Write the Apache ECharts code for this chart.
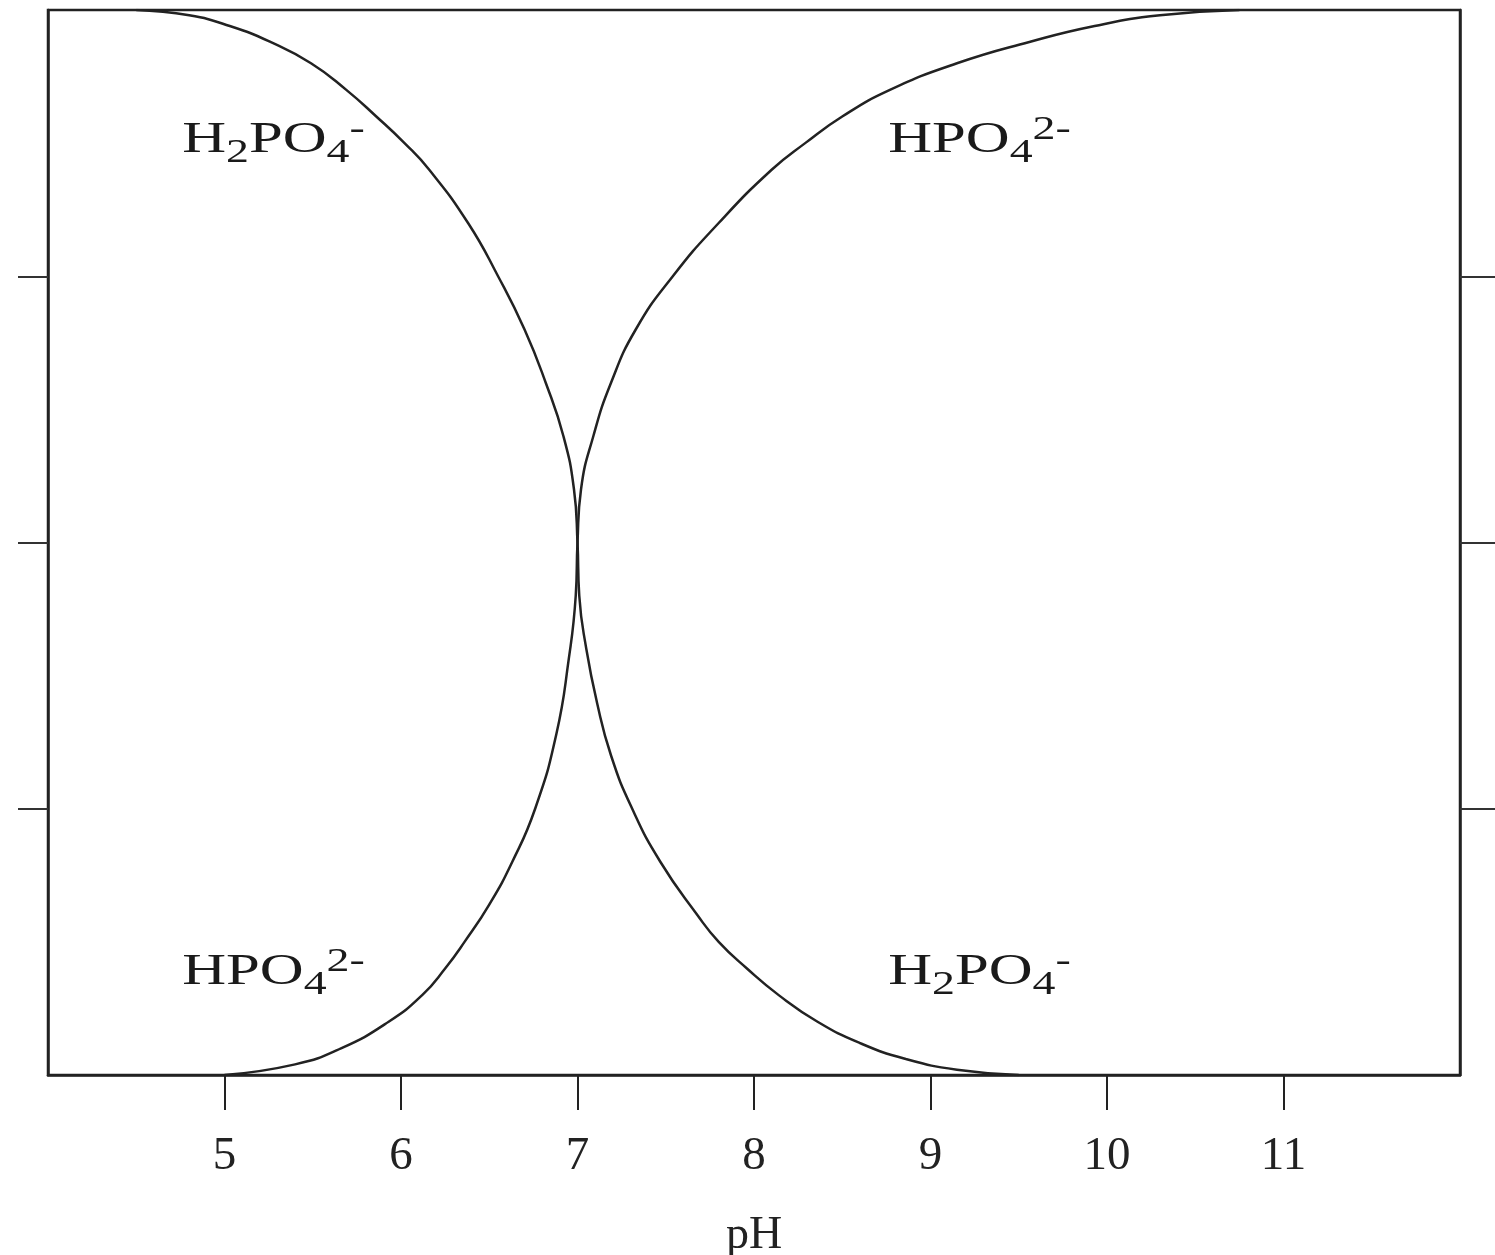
<!DOCTYPE html>
<html>
<head>
<meta charset="utf-8">
<script src="https://cdn.jsdelivr.net/npm/echarts@6/dist/echarts.min.js"></script>
<style>
html,body{margin:0;padding:0;background:#fff;}
#chart{width:1495px;height:1255px;}
</style>
</head>
<body>
<div id="chart"></div>
<script>
// ---- data ----
const xTickValues = [5, 6, 7, 8, 9, 10, 11];
const yTickValues = [0.25, 0.5, 0.75];

// H2PO4- fraction curve (descending)
const phDesc   = [4.50, 4.80, 5.03, 5.26, 5.49, 5.69, 5.86, 6.02, 6.16, 6.38, 6.55, 6.70, 6.82, 6.92, 6.98, 7.00, 7.01, 7.05, 7.11, 7.19, 7.31, 7.47, 7.68, 7.80, 7.96, 8.14, 8.36, 8.60, 8.86, 9.15, 9.50];
const fracDesc = [1.000, 0.995, 0.985, 0.970, 0.950, 0.925, 0.900, 0.875, 0.850, 0.800, 0.750, 0.700, 0.650, 0.600, 0.550, 0.500, 0.450, 0.400, 0.350, 0.300, 0.250, 0.200, 0.150, 0.125, 0.100, 0.075, 0.050, 0.030, 0.015, 0.005, 0.000];

// HPO4 2- fraction curve (ascending)
const phAsc   = [5.00, 5.40, 5.66, 5.93, 6.12, 6.25, 6.36, 6.50, 6.63, 6.76, 6.88, 6.95, 6.99, 7.00, 7.02, 7.09, 7.19, 7.33, 7.54, 7.80, 8.10, 8.29, 8.50, 8.77, 9.15, 9.56, 9.93, 10.30, 10.75];
const fracAsc = [0.000, 0.010, 0.025, 0.050, 0.075, 0.100, 0.125, 0.160, 0.200, 0.250, 0.320, 0.390, 0.450, 0.500, 0.550, 0.600, 0.650, 0.700, 0.750, 0.800, 0.850, 0.875, 0.900, 0.925, 0.950, 0.970, 0.985, 0.995, 1.000];

// species annotations
const labelTexts = ['{m|H}{s|2}{m|PO}{s|4}{u|-}', '{m|HPO}{s|4}{u|2-}', '{m|HPO}{s|4}{u|2-}', '{m|H}{s|2}{m|PO}{s|4}{u|-}'];
const labelPH    = [4.76, 8.76, 4.76, 8.76];
const labelFrac  = [0.878, 0.878, 0.097, 0.097];

const xName = 'pH';

// ---- chart ----
const ink = '#222';
const serif = '"Liberation Serif", "Times New Roman", serif';
const zip = (a, b) => a.map((v, i) => [v, b[i]]);

const chart = echarts.init(document.getElementById('chart'), null, {renderer: 'canvas'});

const option = {
  backgroundColor: '#fff',
  animation: false,
  grid: {
    left: 48, right: 35, top: 10, bottom: 180,
    show: true, borderColor: ink, borderWidth: 2.5, backgroundColor: 'transparent',
    containLabel: false, outerBoundsMode: 'none'
  },
  xAxis: {
    type: 'value', min: 4, max: 12, interval: 1,
    name: xName, nameLocation: 'middle', nameGap: 138,
    nameTextStyle: {fontFamily: serif, fontSize: 46, color: ink},
    axisLine: {show: true, onZero: false, lineStyle: {color: ink, width: 2.5}},
    axisTick: {show: true, inside: false, length: 35, customValues: xTickValues, lineStyle: {color: ink, width: 2}},
    axisLabel: {show: true, customValues: xTickValues, margin: 58, fontFamily: serif, fontSize: 47, color: ink},
    splitLine: {show: false}
  },
  yAxis: [
    {
      type: 'value', min: 0, max: 1, interval: 0.25, position: 'left',
      axisLine: {show: true, onZero: false, lineStyle: {color: ink, width: 2.5}},
      axisTick: {show: true, inside: false, length: 30, customValues: yTickValues, lineStyle: {color: '#333', width: 2}},
      axisLabel: {show: false},
      splitLine: {show: false}
    },
    {
      type: 'value', min: 0, max: 1, interval: 0.25, position: 'right',
      axisLine: {show: true, onZero: false, lineStyle: {color: ink, width: 2.5}},
      axisTick: {show: true, inside: false, length: 35, customValues: yTickValues, lineStyle: {color: '#333', width: 2}},
      axisLabel: {show: false},
      splitLine: {show: false}
    }
  ],
  series: [
    {
      name: 'H2PO4-', type: 'line', data: zip(phDesc, fracDesc),
      showSymbol: false, smooth: 0.5,
      lineStyle: {color: ink, width: 2.5}, silent: true
    },
    {
      name: 'HPO42-', type: 'line', data: zip(phAsc, fracAsc),
      showSymbol: false, smooth: 0.5,
      lineStyle: {color: ink, width: 2.5}, silent: true
    }
  ]
};

chart.setOption(option);

const rich = {
  m: {fontFamily: serif, fontSize: 45, color: '#1a1a1a'},
  s: {fontFamily: serif, fontSize: 34, color: '#1a1a1a', padding: [26, 0, 0, 0]},
  u: {fontFamily: serif, fontSize: 34, color: '#1a1a1a', padding: [0, 0, 20, 0]}
};

const graphics = labelTexts.map((t, i) => {
  const p = chart.convertToPixel({gridIndex: 0}, [labelPH[i], labelFrac[i]]);
  return {
    type: 'text', x: p[0], y: p[1], scaleX: 1.35, silent: true, z: 100,
    style: {text: t, rich: rich, fontFamily: serif, fontSize: 45, fill: '#1a1a1a', align: 'left', verticalAlign: 'middle'}
  };
});
chart.setOption({graphic: graphics});
</script>
</body>
</html>
